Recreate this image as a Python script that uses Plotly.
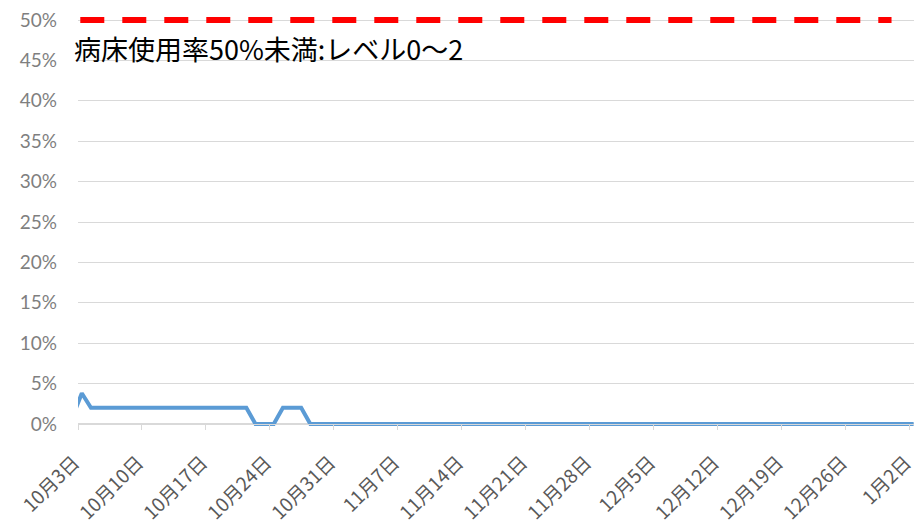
import pandas as pd
import plotly.graph_objects as go

# Bed occupancy rate (fraction), one value per day (reported mid-day)
dates = pd.date_range("2021-10-02 10:00", "2022-01-02 10:00", freq="D")
occupancy = (
    [0.009, 0.038]
    + [0.02] * 18          # 10/4 - 10/21
    + [0.0] * 3            # 10/22 - 10/24
    + [0.02] * 3           # 10/25 - 10/27
    + [0.0] * 67           # 10/28 - 1/2
)

# Threshold line
threshold_dates = ["2021-10-03 06:00", "2021-12-31"]
threshold_values = [0.5, 0.5]
threshold_label = "病床使用率50%未満:レベル0～2"

tick_dates = pd.date_range("2021-10-03", "2022-01-02", freq="7D")
tick_labels = ["10月3日", "10月10日", "10月17日", "10月24日", "10月31日", "11月7日",
               "11月14日", "11月21日", "11月28日", "12月5日", "12月12日", "12月19日",
               "12月26日", "1月2日"]

fig = go.Figure()
fig.add_trace(go.Scatter(x=threshold_dates, y=threshold_values, mode="lines",
                         line=dict(color="#ff0000", width=6, dash="24px,18px"),
                         hoverinfo="skip", showlegend=False))
fig.add_trace(go.Scatter(x=dates, y=occupancy, mode="lines",
                         line=dict(color="#5b9bd5", width=4), showlegend=False))

fig.add_annotation(text=threshold_label, xref="paper", x=-0.007, xanchor="left",
                   yref="y", y=0.465, yanchor="middle", showarrow=False,
                   font=dict(family="Noto Sans CJK JP", size=27, color="#000000"))

y_lo, y_hi = -0.005, 0.505
fig.update_layout(
    width=917, height=530,
    margin=dict(l=78, r=3, t=16, b=102, autoexpand=False),
    paper_bgcolor="white", plot_bgcolor="white",
    xaxis=dict(type="date", range=["2021-10-03", "2022-01-02 11:00"],
               tickvals=tick_dates, ticktext=tick_labels, tickangle=-45,
               ticks="outside", ticklen=5, tickcolor="#d9d9d9",
               showline=True, linecolor="#d9d9d9", linewidth=1,
               showgrid=False, zeroline=False, ticklabeloverflow="allow",
               ticklabelstandoff=14, ticklabelshift=-4, automargin=False,
               anchor="free", position=(0 - y_lo) / (y_hi - y_lo),
               tickfont=dict(family="Noto Sans CJK JP", size=19, color="#595959")),
    yaxis=dict(range=[y_lo, y_hi], tick0=0, dtick=0.05, tickformat=".0%",
               showgrid=True, gridcolor="#d9d9d9", gridwidth=1, zeroline=False,
               showline=False, ticks="", ticklabelstandoff=20, automargin=False,
               tickfont=dict(family="Lato", size=19, color="#7f7f7f")),
)

fig.write_html("out.html")
